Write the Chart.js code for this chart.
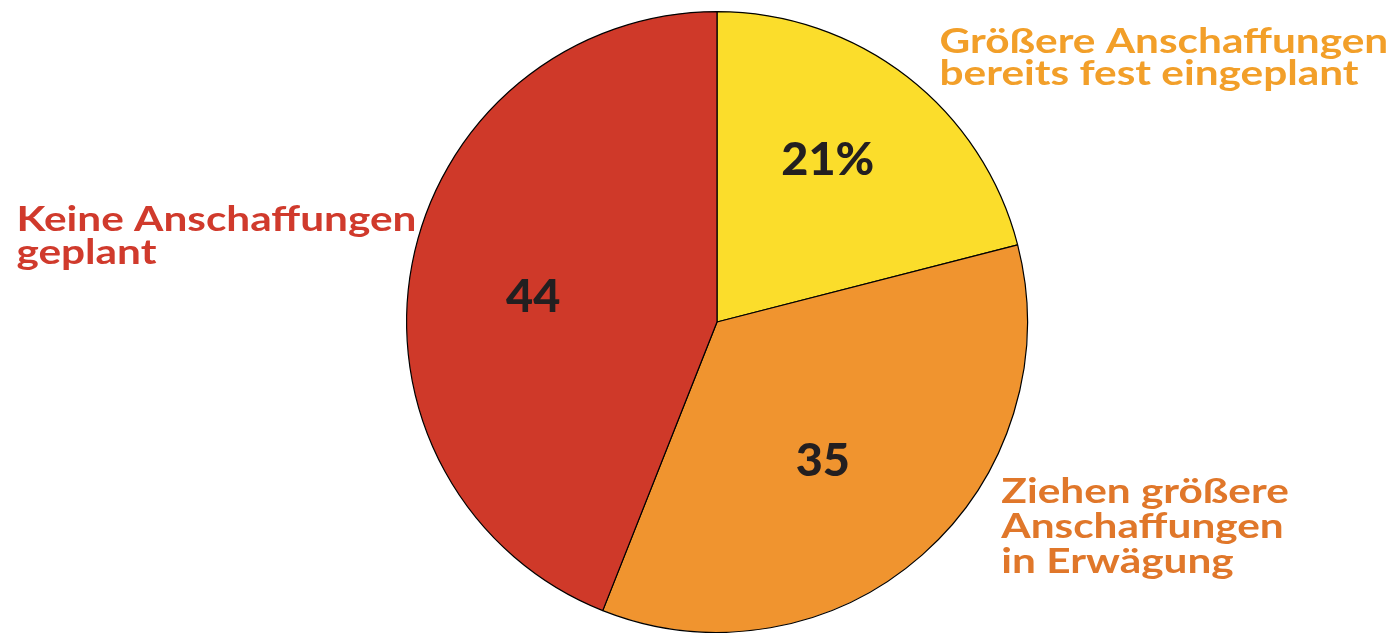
<!DOCTYPE html>
<html><head><meta charset="utf-8">
<script src="https://cdn.jsdelivr.net/npm/chart.js@4/dist/chart.umd.min.js"></script>
<style>html,body{margin:0;padding:0;background:#fff;}#wrap{width:1392px;height:633px;}</style>
</head><body><div id="wrap"><canvas id="c" width="1392" height="633"></canvas></div>
<script>
const categories = ["Größere Anschaffungen bereits fest eingeplant", "Ziehen größere Anschaffungen in Erwägung", "Keine Anschaffungen geplant"];
const values = [21, 35, 44];
const valueLabels = ["21%", "35", "44"];
const labelLines = [["Größere Anschaffungen", "bereits fest eingeplant"], ["Ziehen größere", "Anschaffungen", "in Erwägung"], ["Keine Anschaffungen", "geplant"]];
const sliceColors = ["#FBDD2B", "#F0942F", "#CF3929"];
const textColors = ["#F29F29", "#E0772A", "#D03A2C"];
// label anchor (first baseline, left edge) relative to pie center, in units of radius
const labelAnchors = [[0.717, -0.868], [0.916, 0.582], [-2.257, -0.293]];
const labelLeading = [32, 35, 33];
// value label centers relative to pie center, in units of radius
const valueAnchors = [[0.357, -0.521], [0.341, 0.450], [-0.592, -0.080]];
const LABEL_FONT = "bold 35px Lato, 'DejaVu Sans', sans-serif";
const LABEL_STRETCH = 1.21;
const VALUE_FONT = "900 45px Lato, 'DejaVu Sans', sans-serif";

const labelPlugin = {
  id: 'labels',
  afterDatasetsDraw(chart) {
    const ctx = chart.ctx;
    const meta = chart.getDatasetMeta(0);
    const arc0 = meta.data[0];
    const cx = arc0.x, cy = arc0.y, r = arc0.outerRadius;
    ctx.save();
    ctx.fillStyle = '#231F20';
    ctx.font = VALUE_FONT;
    ctx.textAlign = 'center';
    ctx.textBaseline = 'middle';
    meta.data.forEach((a, i) => {
      const x = cx + valueAnchors[i][0] * r, y = cy + valueAnchors[i][1] * r;
      ctx.save();
      ctx.translate(x, y); ctx.scale(1.04, 1);
      ctx.fillText(valueLabels[i], 0, 0);
      ctx.restore();
    });
    ctx.textAlign = 'left';
    ctx.textBaseline = 'alphabetic';
    ctx.font = LABEL_FONT;
    labelLines.forEach((lines, i) => {
      ctx.fillStyle = textColors[i];
      const x = cx + labelAnchors[i][0] * r;
      let y = cy + labelAnchors[i][1] * r;
      lines.forEach(l => {
        ctx.save();
        ctx.translate(x, y); ctx.scale(LABEL_STRETCH, 1);
        ctx.fillText(l, 0, 0);
        ctx.restore();
        y += labelLeading[i];
      });
    });
    ctx.restore();
  }
};

new Chart(document.getElementById('c'), {
  type: 'pie',
  data: { labels: categories, datasets: [{ data: values, backgroundColor: sliceColors, borderColor: '#000', borderWidth: 1.2 }] },
  options: {
    responsive: false, animation: false,
    layout: { padding: { left: 42, top: 11, bottom: 0 } },
    plugins: { legend: { display: false }, tooltip: { enabled: false } }
  },
  plugins: [labelPlugin]
});
</script></body></html>
